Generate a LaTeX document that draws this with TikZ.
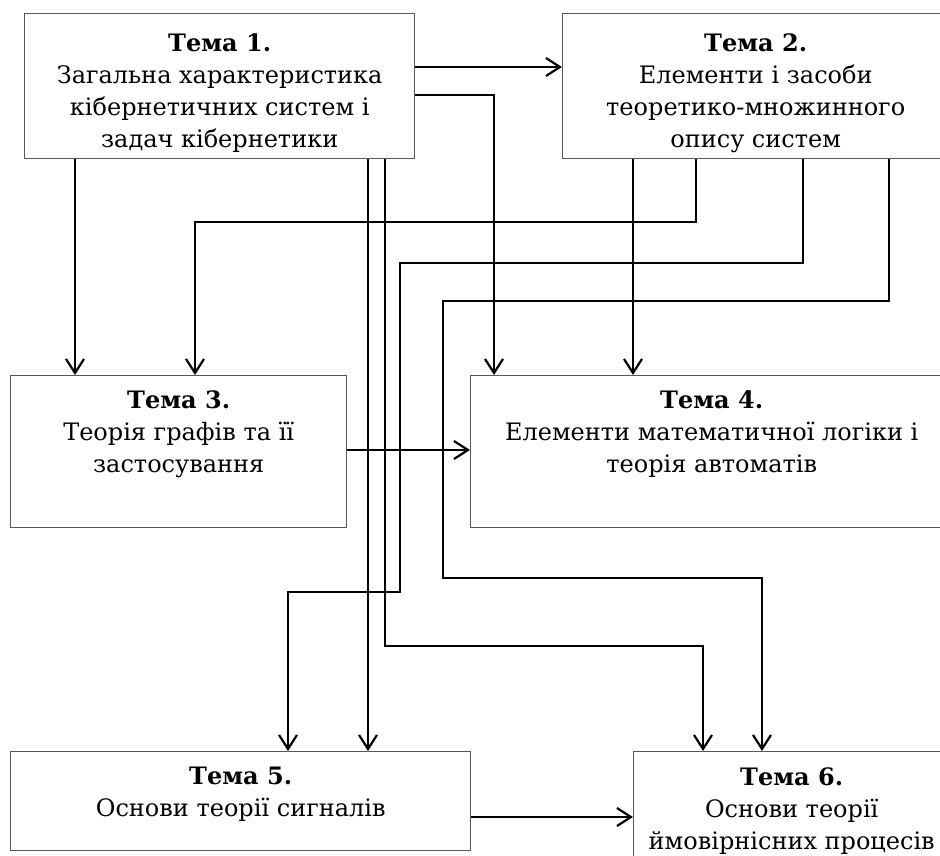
\documentclass[tikz,border=0pt]{standalone}
\usepackage{fontspec}
\setmainfont{DejaVu Serif}
\usetikzlibrary{arrows.meta}

\tikzset{
  topicbox/.style={draw=black!65, line width=1.4pt, rectangle, inner sep=0pt,
    anchor=north west},
  topictext/.style={anchor=north, align=center, inner sep=0pt,
    font=\fontsize{24}{32}\selectfont},
  conn/.style={draw=black, line width=2.2pt, line join=miter,
    -{Straight Barb[length=14pt,width=18pt]}},
}

\begin{document}
\begin{tikzpicture}[x=1pt,y=-1pt]
  \useasboundingbox (0,0) rectangle (940,855);
  \clip (0,0) rectangle (940,855);

  % topic boxes (the right-hand column runs past the page edge)
  \node[topicbox, minimum width=390pt, minimum height=145pt] (t1) at (24,13) {};
  \node[topicbox, minimum width=386pt, minimum height=145pt] (t2) at (562,13) {};
  \node[topicbox, minimum width=336pt, minimum height=152pt] (t3) at (10,375) {};
  \node[topicbox, minimum width=482pt, minimum height=152pt] (t4) at (470,375) {};
  \node[topicbox, minimum width=460pt, minimum height=99pt]  (t5) at (10,751) {};
  \node[topicbox, minimum width=316pt, minimum height=130pt] (t6) at (633,751) {};

  % topic titles
  \node[topictext, yshift=-20pt] (t1txt) at (t1.north)
    {\textbf{Тема 1.}\\Загальна характеристика\\кібернетичних систем і\\задач кібернетики};
  \node[topictext, yshift=-20pt] (t2txt) at (t2.north)
    {\textbf{Тема 2.}\\Елементи і засоби\\теоретико-множинного\\опису систем};
  \node[topictext, yshift=-15pt] (t3txt) at (t3.north)
    {\textbf{Тема 3.}\\Теорія графів та її\\застосування};
  \node[topictext, yshift=-15pt] (t4txt) at (t4.north)
    {\textbf{Тема 4.}\\Елементи математичної логіки і\\теорія автоматів};
  \node[topictext, yshift=-16pt] (t5txt) at (t5.north)
    {\textbf{Тема 5.}\\Основи теорії сигналів};
  \node[topictext, yshift=-16pt] (t6txt) at (t6.north)
    {\textbf{Тема 6.}\\Основи теорії\\ймовірнісних процесів};

  % bend points of the routed connectors
  \coordinate (a1) at (494,95);
  \coordinate (b1) at (385,646);
  \coordinate (b2) at (703,646);
  \coordinate (c1) at (696,222);
  \coordinate (c2) at (195,222);
  \coordinate (d1) at (803,263);
  \coordinate (d2) at (400,263);
  \coordinate (d3) at (400,592);
  \coordinate (d4) at (288,592);
  \coordinate (e1) at (889,301);
  \coordinate (e2) at (443,301);
  \coordinate (e3) at (443,578);
  \coordinate (e4) at (762,578);

  % from topic 1
  \draw[conn] (t1.east |- 0,67) -- (t2.west |- 0,67);
  \draw[conn] (t1.east |- a1) -- (a1) -- (a1 |- t4.north);
  \draw[conn] (t1.south -| 75,0) -- (t3.north -| 75,0);
  \draw[conn] (t1.south -| 368,0) -- (t5.north -| 368,0);
  \draw[conn] (t1.south -| b1) -- (b1) -- (b2) -- (b2 |- t6.north);

  % from topic 2
  \draw[conn] (t2.south -| 633,0) -- (t4.north -| 633,0);
  \draw[conn] (t2.south -| c1) -- (c1) -- (c2) -- (c2 |- t3.north);
  \draw[conn] (t2.south -| d1) -- (d1) -- (d2) -- (d3) -- (d4) -- (d4 |- t5.north);
  \draw[conn] (t2.south -| e1) -- (e1) -- (e2) -- (e3) -- (e4) -- (e4 |- t6.north);

  % from topics 3 and 5
  \draw[conn] (t3.east |- 0,450) -- (t4.west |- 0,450);
  \draw[conn] (t5.east |- 0,817) -- (t6.west |- 0,817);
\end{tikzpicture}
\end{document}
